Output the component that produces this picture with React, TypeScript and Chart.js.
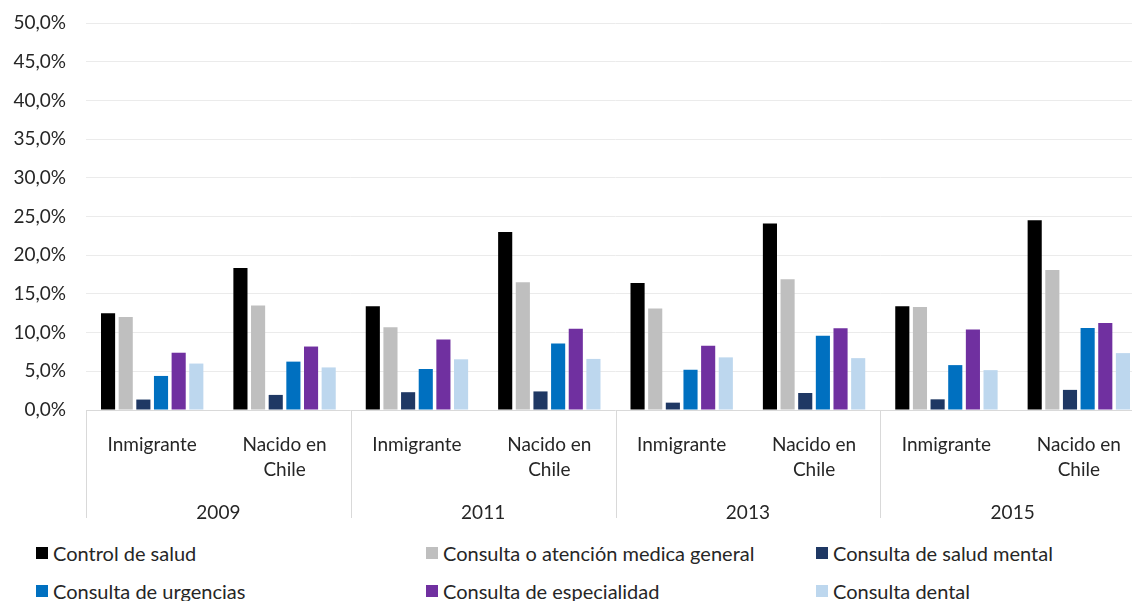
import React, { useEffect, useRef } from "react";
import { Chart, registerables } from "chart.js";

Chart.register(...registerables);

const categories: (string | string[])[] = [
  "Inmigrante", ["Nacido en", "Chile"],
  "Inmigrante", ["Nacido en", "Chile"],
  "Inmigrante", ["Nacido en", "Chile"],
  "Inmigrante", ["Nacido en", "Chile"],
];
const years = ["2009", "2011", "2013", "2015"];

const seriesNames = [
  "Control de salud",
  "Consulta o atención medica general",
  "Consulta de salud mental",
  "Consulta de urgencias",
  "Consulta de especialidad",
  "Consulta dental",
];
const seriesColors = ["#000000", "#bfbfbf", "#1f3864", "#0070c0", "#7030a0", "#bdd7ee"];

const controlSalud = [12.5, 18.35, 13.4, 23.0, 16.4, 24.1, 13.4, 24.5];
const atencionGeneral = [12.0, 13.5, 10.7, 16.5, 13.1, 16.9, 13.3, 18.1];
const saludMental = [1.35, 1.95, 2.3, 2.4, 0.95, 2.2, 1.38, 2.6];
const urgencias = [4.4, 6.25, 5.3, 8.6, 5.2, 9.6, 5.8, 10.6];
const especialidad = [7.4, 8.2, 9.1, 10.5, 8.3, 10.55, 10.4, 11.25];
const dental = [6.0, 5.5, 6.55, 6.6, 6.8, 6.7, 5.15, 7.35];

const seriesValues = [controlSalud, atencionGeneral, saludMental, urgencias, especialidad, dental];

const yMax = 50;
const yStep = 5;

const FONT = "Lato";
const TEXT = "#262626";

const separatorPlugin = {
  id: "separators",
  afterDraw(chart: any) {
    const x = chart.scales.x;
    const ctx = chart.ctx;
    const p0 = x.getPixelForValue(0);
    const w = x.getPixelForValue(1) - p0;
    const top = chart.chartArea.bottom;
    ctx.save();
    ctx.strokeStyle = "#d9d9d9";
    ctx.lineWidth = 1;
    for (let i = 0; i <= categories.length; i += 2) {
      const px = Math.round(p0 + (i - 0.5) * w) + 0.5;
      ctx.beginPath();
      ctx.moveTo(px, top);
      ctx.lineTo(px, top + 108);
      ctx.stroke();
    }
    ctx.restore();
  },
};

export default function App() {
  const ref = useRef<HTMLCanvasElement | null>(null);

  useEffect(() => {
    if (!ref.current) return;
    const chart = new Chart(ref.current, {
      type: "bar",
      data: {
        labels: categories,
        datasets: seriesNames.map((name, i) => ({
          label: name,
          data: seriesValues[i],
          backgroundColor: seriesColors[i],
          borderWidth: 0,
          categoryPercentage: 0.8,
          barPercentage: 0.8,
        })),
      },
      options: {
        animation: false,
        responsive: false,
        maintainAspectRatio: false,
        layout: { padding: { top: 23, left: 0, right: 0, bottom: 0 } },
        plugins: {
          legend: { display: false },
          tooltip: { enabled: false },
        },
        scales: {
          x: {
            type: "category",
            position: "bottom",
            weight: 0,
            grid: { display: false },
            border: { display: false },
            ticks: {
              autoSkip: false,
              maxRotation: 0,
              minRotation: 0,
              padding: 14,
              color: TEXT,
              font: { family: FONT, size: 19, lineHeight: 1.34 },
            },
            afterFit: (s: any) => {
              s.height = 75;
            },
          },
          x2: {
            type: "category",
            labels: years,
            position: "bottom",
            weight: 1,
            offset: true,
            grid: { display: false },
            border: { display: false },
            ticks: {
              autoSkip: false,
              maxRotation: 0,
              padding: 7,
              color: TEXT,
              font: { family: FONT, size: 19, lineHeight: 1.34 },
            },
            afterFit: (s: any) => {
              s.height = 45;
            },
          },
          y: {
            min: 0,
            max: yMax,
            border: { display: false },
            grid: {
              drawTicks: false,
              color: (c: any) => (c.tick && c.tick.value === 0 ? "#d9d9d9" : "#ebebeb"),
              lineWidth: 1,
            },
            ticks: {
              stepSize: yStep,
              padding: 20,
              color: TEXT,
              font: { family: FONT, size: 19 },
              callback: (v: any) => Number(v).toFixed(1).replace(".", ",") + "%",
            },
            afterFit: (s: any) => {
              s.width = 86;
              s.paddingTop = 0;
              s.paddingBottom = 0;
            },
          },
        },
      },
      plugins: [separatorPlugin],
    } as any);
    return () => chart.destroy();
  }, []);

  return (
    <div
      style={{
        position: "fixed",
        left: 0,
        top: 0,
        width: 1132,
        height: 601,
        overflow: "hidden",
        background: "#ffffff",
      }}
    >
      <canvas ref={ref} width={1145} height={530} style={{ display: "block", width: 1145, height: 530 }} />
      <div
        style={{
          position: "absolute",
          left: 36,
          top: 534,
          display: "grid",
          gridTemplateColumns: "390px 390px 390px",
          gridAutoRows: "38px",
          fontFamily: FONT,
          fontSize: 20,
          color: TEXT,
        }}
      >
        {seriesNames.map((name, i) => (
          <div key={name} style={{ display: "flex", alignItems: "center", whiteSpace: "nowrap" }}>
            <span
              style={{
                display: "inline-block",
                width: 12,
                height: 12,
                background: seriesColors[i],
                marginRight: 5,
              }}
            />
            <span>{name}</span>
          </div>
        ))}
      </div>
    </div>
  );
}
